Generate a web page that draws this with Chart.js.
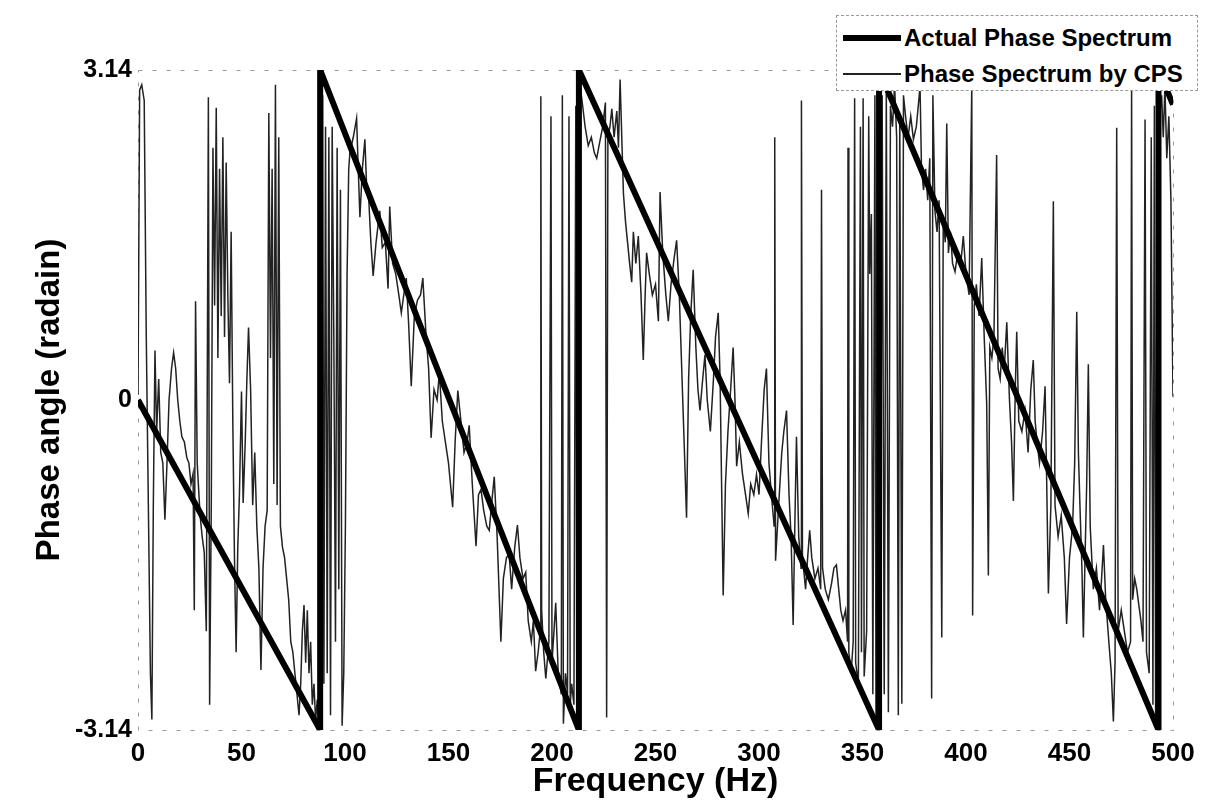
<!DOCTYPE html>
<html>
<head>
<meta charset="utf-8">
<script src="https://cdn.jsdelivr.net/npm/chart.js@4.4.1/dist/chart.umd.min.js"></script>
<style>
  html, body { margin: 0; padding: 0; background: #fff; }
  #wrap { position: relative; width: 1228px; height: 807px; }
  #legend {
    position: absolute; left: 836px; top: 15px; width: 362px; height: 76px;
    background: #fff; border: 1px dashed #9a9a9a; box-sizing: border-box;
    font-family: "Liberation Sans", Arial, sans-serif; font-weight: bold; font-size: 24px; color: #000;
  }
  .row { position: absolute; left: 6px; height: 30px; display: flex; align-items: center; }
  .sample { width: 58px; margin-right: 3px; }
</style>
</head>
<body>
<div id="wrap">
  <canvas id="c" width="1228" height="807"></canvas>
  <div id="legend">
    <div class="row" style="top:7px"><div class="sample" style="height:6px;background:#000"></div><span>Actual Phase Spectrum</span></div>
    <div class="row" style="top:43px"><div class="sample" style="height:1.5px;background:#222"></div><span>Phase Spectrum by CPS</span></div>
  </div>
</div>
<script>
// ---- data ----
const xTickStep = 50;
const yTickValues = [-3.14, 0, 3.14];

const actualHz    = [0, 88, 88, 213, 213, 358, 358, 493, 493, 500];
const actualPhase = [0, -3.14, 3.14, -3.14, 3.14, -3.14, 3.14, -3.14, 3.14, 2.81];

// Phase Spectrum by CPS, [Hz, rad]
const cpsBand1 = [
  [0,0.05],[0.8,2.95],[1.8,3.0],[3.0,2.85],[4.0,0.6],[5,-1.0],[6,-2.6],[6.7,-3.04],[7.4,-1.0],[8.2,0.47],
  [9,-0.3],[10,0.2],[11,-0.5],[12,-0.6],[13,-1.14],[14,-0.6],[15,0.0],[16.2,0.3],[17.2,0.45],[18.2,0.3],
  [19.2,0.0],[20.2,-0.2],[21.2,-0.35],[22.4,-0.4],[23.6,-0.55],[24.6,-0.6],[25.6,-0.8],[26.6,-0.7],[27.2,-2.0],[27.8,0.94],
  [28.6,-0.6],[30,-1.1],[31,-1.3],[32,-1.45],[33,-2.2],[34,2.88],[34.6,-2.9],[35.4,-1.0],[36.2,2.4],[37,0.9],
  [37.8,2.78],[38.6,0.4],[39.4,2.2],[40.2,0.8],[41,2.5],[41.8,0.6],[42.6,2.26],[43.4,1.0],[44.2,0.16],[45,1.6],
  [45.8,-0.2],[46.6,-1.5],[47.4,-2.4],[48.2,-1.4],[49,-0.9],[50,0.08],[50.8,-0.98],[51.8,-0.4],[52.6,0.2],[53.4,0.69],
  [54.4,0.1],[55.4,-1.0],[56.4,-0.5],[57.4,-1.2],[58.4,-1.6],[59.4,-2.57],[60.4,-1.6],[61.4,-1.2],[62.4,-1.05],[63.2,2.73],
  [64,0.4],[64.8,2.2],[65.6,-0.8],[66.4,3.0],[67.2,-1.0],[68,2.5],[68.8,-1.2],[69.8,-1.4],[70.8,-1.5],[71.8,-1.7],
  [72.8,-1.9],[73.8,-2.3],[74.8,-2.4],[75.8,-2.6],[76.8,-2.8],[77.8,-3.0],[78.6,-2.7],[79.4,-2.2],[80.2,-1.95],[81,-2.5],
  [81.8,-2.0],[82.6,-2.6],[83.4,-2.3],[84.2,-2.9],[85,-2.7],[85.8,-3.05],[86.6,-2.85],[87.4,-3.1],[88.1,3.05],[88.6,-3.0],
  [89.2,2.9],[89.8,-2.7],[90.6,2.6],[91.4,-2.6],[92.2,2.5],[93,-3.0],[93.8,2.6],[94.6,0.6],[95.4,-2.3],[96.2,2.4],
  [97,-1.8],[97.8,2.0],[98.6,-3.1],[99.4,-2.6],[100.2,-1.2],[101,1.2],[101.8,2.2]
];
const cpsBand2 = [
  [102.4,2.36],[104,2.5],[105.6,2.68],[106.4,2.2],[107.2,1.74],[108.4,2.2],[109.6,2.48],[110.5,2.0],[111.5,1.9],[112.5,1.5],
  [113.6,1.18],[115,1.5],[116.8,1.8],[118,1.45],[119.5,1.5],[120.8,1.06],[121.6,1.84],[123,1.3],[124.5,1.2],[126,1.0],
  [127.2,0.83],[128.4,1.0],[129.6,1.16],[130.8,0.7],[132,0.13],[133.5,0.8],[135,0.95],[136.5,1.0],[137.6,1.16],[139.2,0.6],
  [140.4,0.3],[141.6,-0.36],[143,0.1],[144.5,0.0],[145.6,0.26],[147,-0.2],[148.5,-0.4],[150,-0.6],[152,-1.02],[153.2,-0.4],
  [154.5,0.09],[156,-0.2],[157.5,-0.5],[159,-0.4],[160,-0.24],[161.5,-0.8],[163.3,-1.39],[164.5,-0.9],[165.7,-0.85],[167,-1.05],
  [168.5,-1.2],[169.7,-1.24],[171,-0.95],[172.1,-0.73],[173.5,-1.3],[175.3,-2.3],[176.5,-1.7],[178,-1.5],[179.3,-1.47],[180.5,-1.8],
  [182,-1.4],[183.3,-1.19],[184.5,-1.5],[186,-1.7],[187.3,-1.64],[188.5,-2.1],[190,-2.3],[191,-2.1],[192.1,-2.58],[193.3,-2.4],
  [194.3,-2.2],[194.6,2.89],[195,-2.0],[196,-2.4],[197,-2.65],[198.5,-2.3],[199.5,2.7],[200,-2.5],[201.8,-1.93],[203,-2.6],
  [204.5,-2.8],[205,2.9],[205.5,-3.08],[206.5,-2.6],[207.5,-2.8],[208.2,2.7],[208.8,-2.9],[209.5,-2.7],[210.6,-2.9],[211.5,2.8],
  [212,-3.0],[212.5,-3.1]
];
const cpsBand3 = [
  [213.2,3.05],[214.5,2.85],[216,2.6],[217.5,2.42],[219,2.5],[220.5,2.35],[221.6,2.3],[223,2.45],[224.5,2.6],[225.8,2.83],
  [226.4,-3.02],[227,2.5],[228,2.6],[228.9,2.77],[230,2.5],[231.3,2.75],[232.1,2.4],[232.9,3.05],[233.7,2.5],[234.5,1.97],
  [235.5,1.7],[236.5,1.5],[237.5,1.3],[238.5,1.12],[239.3,1.6],[240.5,1.3],[241.7,1.56],[243,1.0],[244.1,0.38],[245,1.0],
  [245.7,1.4],[247,1.2],[248.5,1.0],[250,1.1],[251.4,0.75],[252.2,1.98],[253.5,1.4],[255,1.0],[256.2,0.75],[257.5,1.1],
  [259,1.35],[260.2,1.52],[261.5,1.0],[262.5,0.4],[263.5,-0.2],[265,-1.12],[266,0.2],[267,0.8],[268.2,1.24],[269.5,0.5],
  [270.5,0.1],[271.5,-0.1],[272.8,0.2],[273.9,0.43],[275,0.0],[276.5,-0.3],[278,0.2],[279,0.6],[280.3,0.83],[281.2,0.2],
  [282.7,-1.86],[283.8,-0.8],[285,-0.3],[286.3,0.1],[287.5,0.5],[288.4,0.0],[289.2,-0.63],[290.5,-0.4],[292,-0.7],[293.5,-0.9],
  [294.8,-1.08],[296,-0.8],[297.5,-0.9],[298.8,-0.71],[300,-0.9],[301.2,-0.4],[302.5,0.1],[303.6,0.3],[304.8,-0.6],[306,-0.9],
  [307.3,-1.2],[307.6,2.5],[308,-1.53],[309.5,-1.0],[311,-0.5],[312,-0.3],[313.3,-0.1],[314.5,-0.9],[315.5,-1.3],[316.5,-2.14],
  [317.3,-1.2],[318.1,-0.35],[319.2,-1.3],[320.3,-1.6],[320.5,2.85],[321,-1.5],[322.5,-1.8],[323.5,-1.5],[324.5,-1.24],[325.5,-1.5],
  [327,-1.7],[328.5,-1.6],[329.8,-1.8],[330.2,2.0],[330.7,-1.6],[332,-1.8],[333.5,-1.9],[335,-1.75],[336.2,-1.6],[337.4,-1.57],
  [338.5,-1.8],[339.5,-2.0],[340.6,-2.1],[341.8,-2.0],[342.8,-2.3],[343,2.4],[343.4,-2.4],[344.5,-2.6],[345.5,-2.3],[346.2,2.87],
  [346.7,-2.5],[348,-2.7],[349,2.6],[349.5,-2.4],[350.3,2.87],[350.8,-2.63],[352,-2.2],[353,2.7],[353.5,1.2],[354.3,1.77],
  [355,-2.8],[356,2.9],[356.5,-3.0],[357.3,-3.1]
];
const cpsBand4 = [
  [358,3.0],[358.6,-2.97],[359.5,2.9],[360.5,-2.8],[361.5,2.95],[362.5,-2.97],[363.5,2.8],[364.5,2.6],[365.5,3.0],[366.5,2.5],
  [367.3,-3.0],[368,2.7],[369,-2.89],[369.8,2.9],[370.8,2.7],[372,2.5],[373.3,2.7],[374.6,2.48],[376,2.6],[377.8,2.98],
  [378.5,2.2],[379.5,2.0],[380.5,2.2],[381.5,1.9],[382.5,2.3],[383.4,-2.84],[384,2.9],[385,1.8],[386,1.6],[387,1.9],
  [388.3,-2.26],[389,1.7],[390,1.5],[390.7,2.63],[391.5,1.4],[392.5,1.6],[393.5,1.3],[394.7,1.22],[396,1.4],[397.5,1.3],
  [398.7,1.56],[400,1.2],[401.5,1.0],[402.8,3.0],[403.2,-2.05],[404,0.9],[405,1.1],[406.3,0.8],[407.6,1.35],[408.8,0.6],
  [410,-0.04],[410.8,-1.67],[411.5,0.5],[412.5,0.4],[413.5,0.6],[414.8,2.33],[415.5,0.3],[416.5,0.2],[417.5,0.5],[418.5,0.3],
  [419.7,0.74],[421,0.0],[422,-0.4],[422.9,-0.96],[423.8,0.1],[424.5,0.65],[425.5,-0.2],[427,-0.3],[428.5,-0.1],[430,-0.5],
  [431.3,0.1],[432.5,0.38],[433.4,-0.2],[434.2,-0.38],[435.5,-0.6],[437,-0.3],[438.2,0.13],[439,-0.8],[439.8,-1.84],[441,-1.0],
  [442.2,1.89],[443,-1.0],[444.5,-1.3],[446,-1.1],[447.5,-1.5],[448.6,-2.13],[450,-1.5],[451.5,-1.2],[452.5,-0.6],[453.5,0.84],
  [454.3,-0.5],[455.1,-1.04],[456,-1.6],[456.7,-2.26],[457.5,-1.5],[458.3,-0.8],[459.1,0.34],[460,-1.2],[461.5,-1.8],[463,-1.6],
  [464.5,-2.0],[465.5,-1.7],[466.4,-1.38],[467.5,-1.9],[469,-2.3],[470.2,-2.6],[471.2,-3.06],[472,-2.5],[472.8,2.59],[473.5,-2.2],
  [475,-2.0],[476.5,-2.2],[478,-2.4],[479.5,-2.3],[480,3.03],[480.5,-1.9],[481.5,-1.7],[482.5,-1.8],[483.3,-1.92],[484.5,-2.1],
  [485.5,-2.3],[486.5,2.67],[487.2,-2.4],[488.5,-2.6],[489.5,2.5],[490.3,-2.9],[491,2.8],[491.6,-3.0],[492.5,3.0],[493.5,2.7],
  [494.5,2.9],[495.3,2.5],[496.1,2.98],[497,2.3],[498,2.7],[499,1.9],[500,0.03]
];

// ---- build ----
const actualPoints = actualHz.map((x, i) => ({ x: x, y: actualPhase[i] }));
const cpsPoints = [].concat(cpsBand1, cpsBand2, cpsBand3, cpsBand4).map(p => ({ x: p[0], y: p[1] }));

const FONT = '"Liberation Sans", Arial, Helvetica, sans-serif';

const framePlugin = {
  id: 'frame',
  beforeDatasetsDraw(chart) {
    const a = chart.chartArea, c = chart.ctx;
    c.save();
    c.strokeStyle = '#9a9a9a';
    c.lineWidth = 1;
    c.setLineDash([4, 10]);
    c.strokeRect(a.left + 0.5, a.top + 0.5, a.right - a.left, a.bottom - a.top);
    c.restore();
  }
};

new Chart(document.getElementById('c'), {
  type: 'line',
  data: {
    datasets: [
      { label: 'Actual Phase Spectrum', data: actualPoints, borderColor: '#000', borderWidth: 6,
        pointRadius: 0, tension: 0, fill: false, borderJoinStyle: 'miter' },
      { label: 'Phase Spectrum by CPS', data: cpsPoints, borderColor: '#222', borderWidth: 1.5,
        pointRadius: 0, tension: 0, fill: false }
    ]
  },
  options: {
    responsive: false,
    animation: false,
    devicePixelRatio: 1,
    layout: { padding: { left: 0, right: 55, top: 70, bottom: 0 } },
    plugins: { legend: { display: false }, tooltip: { enabled: false } },
    scales: {
      x: {
        type: 'linear', min: 0, max: 500,
        grid: { display: false, drawTicks: false },
        border: { display: false },
        ticks: { stepSize: xTickStep, padding: 8, color: '#000',
                 font: { family: FONT, size: 26, weight: 'bold' } },
        title: { display: true, text: 'Frequency (Hz)', color: '#000',
                 font: { family: FONT, size: 34, weight: 'bold' }, padding: { top: 0, bottom: 5 } },
        afterFit(s) { s.height = 77; }
      },
      y: {
        type: 'linear', min: -3.14, max: 3.14,
        grid: { display: false, drawTicks: false },
        border: { display: false },
        afterBuildTicks(s) { s.ticks = yTickValues.map(v => ({ value: v })); },
        ticks: { padding: 6, color: '#000', font: { family: FONT, size: 25, weight: 'bold' },
                 callback: v => (v === 0 ? '0' : v.toFixed(2)) },
        title: { display: true, text: 'Phase angle (radain)', color: '#000',
                 font: { family: FONT, size: 33, weight: 'bold' }, padding: { top: 30, bottom: 0 } },
        afterFit(s) { s.width = 138; }
      }
    }
  },
  plugins: [framePlugin]
});
</script>
</body>
</html>
